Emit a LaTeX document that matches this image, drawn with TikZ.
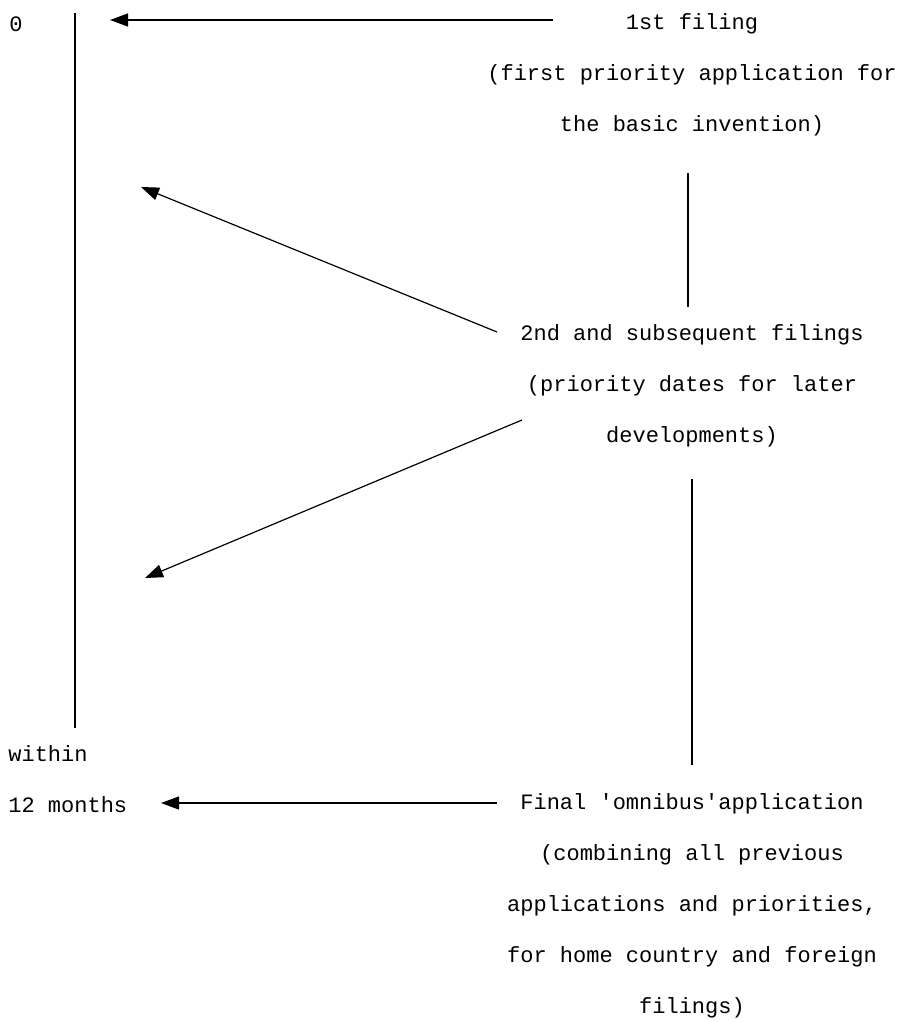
\documentclass[tikz,border=0pt]{standalone}
\usepackage{fontspec}
\setmainfont{Liberation Mono}
\usepackage{tikz}
\usetikzlibrary{arrows.meta}

\tikzset{
  txt/.style={font=\fontsize{11}{25.5}\selectfont, inner sep=0pt, align=center},
  arr/.style={-{Triangle[length=9pt,width=6.5pt]}, line width=0.6pt},
  bar/.style={line width=0.6pt}
}

\begin{document}
\begin{tikzpicture}[x=0.5pt, y=-0.5pt]
\useasboundingbox (0,0) rectangle (905,1022);

% time axis
\node[txt] (zero) at (16,24) {0};
\coordinate (ttop) at (75,13);
\coordinate (tbot) at (75,728);
\draw[bar] (ttop) -- (tbot);
\node[txt, align=left, anchor=west] (within) at (8,779) {within\\12 months};

% the filings
\node[txt] (first) at (692,75) {1st filing\\(first priority application for\\the basic invention)};
\node[txt] (second) at (692,386) {2nd and subsequent filings\\(priority dates for later\\developments)};
\node[txt] (final) at (692,906) {Final \textquotesingle omnibus\textquotesingle application\\(combining all previous\\applications and priorities,\\for home country and foreign\\filings)};

% links between the filings
\coordinate (fs) at (688,173);
\coordinate (fe) at (688,307);
\draw[bar] (fs) -- (fe);
\coordinate (ss) at (692,479);
\coordinate (se) at (692,765);
\draw[bar] (ss) -- (se);

% arrows back to the axis
\coordinate (a1) at (553,20);  \coordinate (h1) at (110,20);
\coordinate (a2) at (497,332); \coordinate (h2) at (141,187);
\coordinate (a3) at (522,420); \coordinate (h3) at (145,578);
\coordinate (a4) at (497,803); \coordinate (h4) at (161,803);
\draw[arr] (a1) -- (h1);
\draw[arr] (a2) -- (h2);
\draw[arr] (a3) -- (h3);
\draw[arr] (a4) -- (h4);

\end{tikzpicture}
\end{document}
